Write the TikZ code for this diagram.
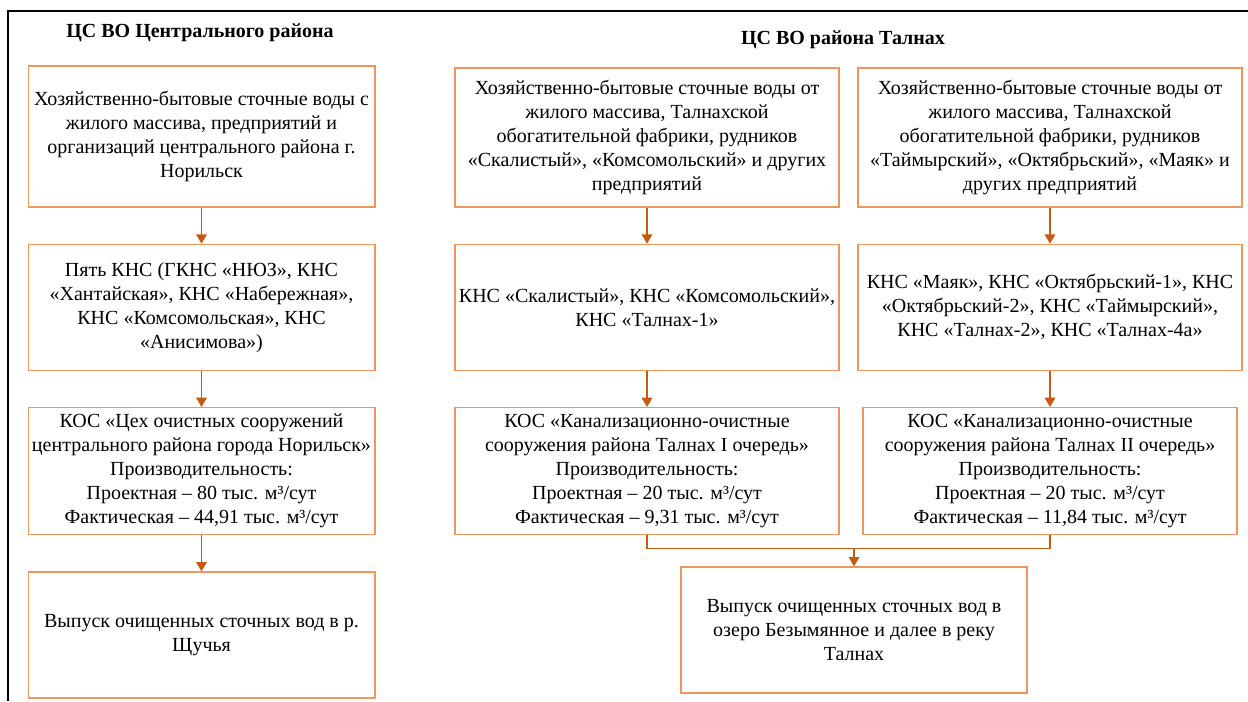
\documentclass[tikz,border=0pt]{standalone}
\usepackage{fontspec}
\setmainfont{Liberation Serif}
\usetikzlibrary{positioning,calc,arrows.meta}
\definecolor{boxline}{RGB}{236,150,96}
\definecolor{arrline}{RGB}{197,90,17}

\begin{document}
\begin{tikzpicture}[x=0.75pt,y=-0.75pt,font=\fontsize{15}{18}\selectfont,node distance=27pt,
 b/.style={draw=boxline,line width=1pt,align=center,inner sep=2pt,minimum width=260pt,minimum height=94.5pt},
 wb/.style={b,minimum width=288pt},
 ttl/.style={font=\fontsize{15}{18}\selectfont\bfseries},
 ar/.style={draw=arrline,line width=1pt,-{Triangle[length=7pt,width=8pt]}},
 ln/.style={draw=arrline,line width=1pt}]
\useasboundingbox (0,0) rectangle (1248,701);
\draw[line width=1.5pt] (8,701) -- (8,11) -- (1248,11);
\node[ttl] (tcentr) at (200,33) {ЦС ВО Центрального района};
\node[ttl] (ttaln) at (843,40) {ЦС ВО района Талнах};
% central district
\node[b,minimum height=105.75pt] (a1) at (201.5,136.5) {Хозяйственно-бытовые сточные воды с\\ жилого массива, предприятий и\\ организаций центрального района г.\\ Норильск};
\node[b,below=of a1] (a2) {Пять КНС (ГКНС «НЮЗ», КНС\\ «Хантайская», КНС «Набережная»,\\ КНС «Комсомольская», КНС\\ «Анисимова»)};
\node[b,below=of a2,minimum height=95.25pt] (a3) {КОС «Цех очистных сооружений\\ центрального района города Норильск»\\ Производительность:\\ Проектная – 80 тыс. м³/сут\\ Фактическая – 44,91 тыс. м³/сут};
\node[b,below=of a3] (a4) {Выпуск очищенных сточных вод в р.\\ Щучья};
% Talnakh, stage I
\node[wb,minimum height=104.25pt] (b1) at (647,137.5) {Хозяйственно-бытовые сточные воды от\\ жилого массива, Талнахской\\ обогатительной фабрики, рудников\\ «Скалистый», «Комсомольский» и других\\ предприятий};
\node[wb,below=of b1] (b2) {КНС «Скалистый», КНС «Комсомольский»,\\ КНС «Талнах-1»};
\node[wb,below=of b2,minimum height=95.25pt] (b3) {КОС «Канализационно-очистные\\ сооружения района Талнах I очередь»\\ Производительность:\\ Проектная – 20 тыс. м³/сут\\ Фактическая – 9,31 тыс. м³/сут};
% Talnakh, stage II
\node[wb,minimum height=104.25pt] (c1) at (1050,137.5) {Хозяйственно-бытовые сточные воды от\\ жилого массива, Талнахской\\ обогатительной фабрики, рудников\\ «Таймырский», «Октябрьский», «Маяк» и\\ других предприятий};
\node[wb,below=of c1] (c2) {КНС «Маяк», КНС «Октябрьский-1», КНС\\ «Октябрьский-2», КНС «Таймырский»,\\ КНС «Талнах-2», КНС «Талнах-4а»};
\node[b,below=of c2,minimum width=280.5pt,minimum height=95.25pt] (c3) {КОС «Канализационно-очистные\\ сооружения района Талнах II очередь»\\ Производительность:\\ Проектная – 20 тыс. м³/сут\\ Фактическая – 11,84 тыс. м³/сут};
\node[b,minimum width=259.5pt] (d) at (854,630) {Выпуск очищенных сточных вод в\\ озеро Безымянное и далее в реку\\ Талнах};
\coordinate[above=13.5pt of d.north] (j);
\draw[ar] (a1) -- (a2); \draw[ar] (a2) -- (a3); \draw[ar] (a3) -- (a4);
\draw[ar] (b1) -- (b2); \draw[ar] (b2) -- (b3);
\draw[ar] (c1) -- (c2); \draw[ar] (c2) -- (c3);
\draw[ln] (b3.south) |- (j) -| (c3.south);
\draw[ar] (j) -- (d.north);
\end{tikzpicture}
\end{document}
